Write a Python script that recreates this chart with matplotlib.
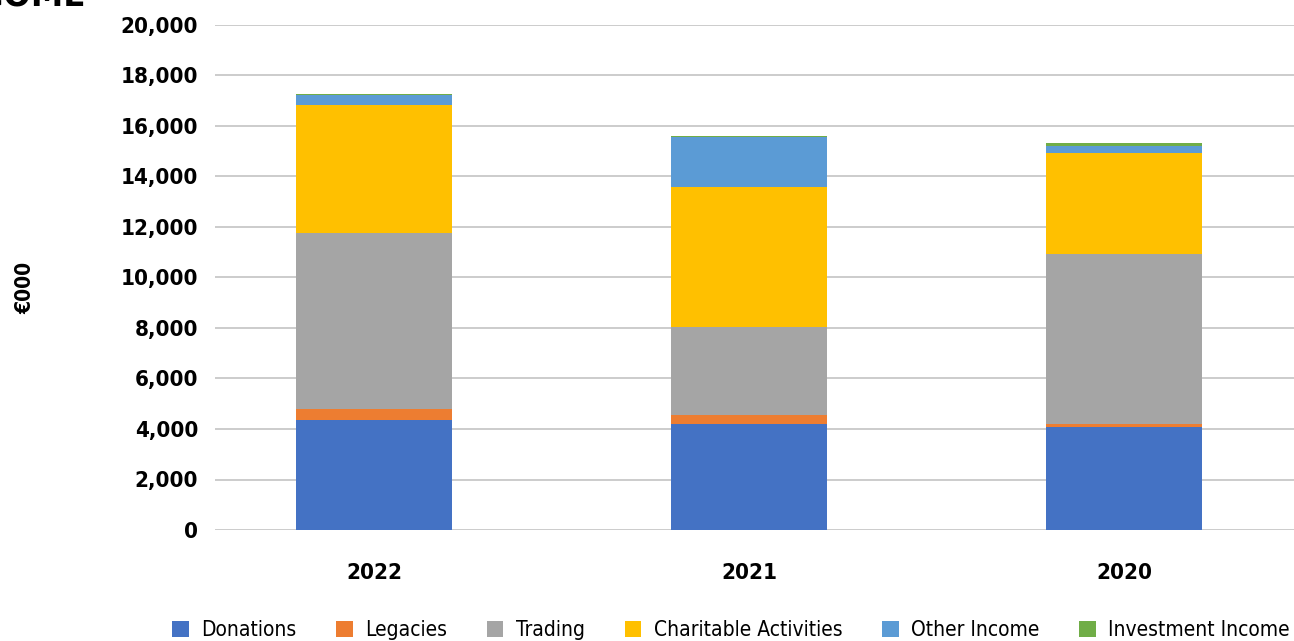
import numpy as np
import matplotlib.pyplot as plt
from matplotlib.patches import Patch

# Income by source, in thousands of euro
years = ["2022", "2021", "2020"]
donations = [4350, 4200, 4080]
legacies = [430, 350, 120]
trading = [6980, 3490, 6730]
charitable = [5070, 5560, 4010]
other_income = [400, 1980, 280]
investment = [20, 40, 100]

series_names = ["Donations", "Legacies", "Trading", "Charitable Activities",
                "Other Income", "Investment Income"]
series = [donations, legacies, trading, charitable, other_income, investment]
colors = ["#4472C4", "#ED7D31", "#A5A5A5", "#FFC000", "#5B9BD5", "#70AD47"]

plt.rcParams['font.family'] = ['DejaVu Sans']
plt.rcParams['font.stretch'] = 'condensed'

fig = plt.figure(figsize=(12.94, 6.41), dpi=100)
ax = fig.add_axes([215 / 1294, 1 - 530 / 641, 1 - 215 / 1294, (530 - 25) / 641])

x = np.arange(len(years))
bottom = np.zeros(len(years))
for vals, col, name in zip(series, colors, series_names):
    ax.bar(x, vals, width=0.416, bottom=bottom, color=col, label=name, zorder=3)
    bottom += np.array(vals)

ax.set_ylim(0, 20000)
ax.set_xlim(-0.424, 2.453)
ax.set_yticks(np.arange(0, 20001, 2000))
ax.set_yticklabels([f"{v:,}" for v in range(0, 20001, 2000)],
                   fontsize=16, fontweight='bold')
ax.set_xticks(x)
ax.set_xticklabels(years, fontsize=16, fontweight='bold')
ax.tick_params(axis='y', length=0, pad=12)
ax.tick_params(axis='x', length=0, pad=24)
ax.grid(axis='y', color='#BFBFBF', linewidth=1.1, zorder=0)
for s in ax.spines.values():
    s.set_visible(False)

# y axis title and the cropped chart title
fig.text(25 / 1294, 1 - 288 / 641, "€000", rotation=90, fontsize=15,
         fontweight='bold', ha='center', va='center')
fig.text(-60 / 1294, 1 - 12 / 641, "INCOME", fontsize=26, fontweight='bold',
         ha='left', va='bottom')

handles = [Patch(facecolor=c, label=n) for c, n in zip(colors, series_names)]
fig.legend(handles=handles, loc='center left', ncol=6,
           bbox_to_anchor=(172 / 1294, 1 - 630 / 641), frameon=False,
           fontsize=15, handlelength=0.8, handleheight=0.8,
           handletextpad=0.6, columnspacing=1.9, borderpad=0, borderaxespad=0)

fig.savefig("out.png", dpi=100)
